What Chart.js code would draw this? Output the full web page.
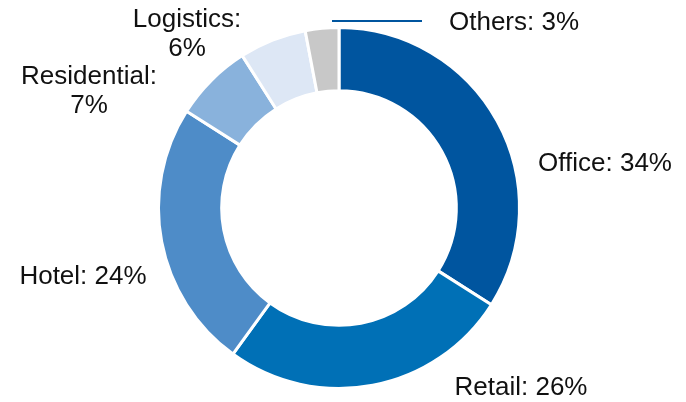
<!DOCTYPE html>
<html>
<head>
<meta charset="utf-8">
<script src="https://cdn.jsdelivr.net/npm/chart.js@4.4.0/dist/chart.umd.min.js"></script>
<style>
    html, body { margin: 0; padding: 0; background: #ffffff; }
    #chartBox { width: 686px; height: 402px; }
</style>
</head>
<body>
<div id="chartBox"><canvas id="myChartDona"></canvas></div>
<script>
// Datos del grafico
const categorias = ['Office', 'Retail', 'Hotel', 'Residential', 'Logistics', 'Others'];
const porcentajes = [34, 26, 24, 7, 6, 3];
const colores = ['#00559f', '#0070b6', '#4e8cc8', '#89b2dc', '#dde7f5', '#c8c8c8'];

// Posicion de las etiquetas (dx, dy desde el centro de la dona)
const posEtiquetas = [
    { dx: 266, dy: -44 },
    { dx: 182, dy: 180 },
    { dx: -256, dy: 69 },
    { dx: -250, dy: -131, salto: true },
    { dx: -152, dy: -188, salto: true },
    { dx: 175, dy: -185, linea: [-7, 83] }
];

// Plugin para dibujar las etiquetas fuera de la dona
const etiquetasPlugin = {
    id: 'etiquetasFuera',
    afterDraw(chart) {
        const ctx = chart.ctx;
        const arco = chart.getDatasetMeta(0).data[0];
        const cx = arco.x, cy = arco.y;
        ctx.save();
        ctx.font = '26px "Liberation Sans", Arial, sans-serif';
        ctx.fillStyle = '#111111';
        ctx.textAlign = 'center';
        ctx.textBaseline = 'middle';
        categorias.forEach(function (cat, i) {
            const p = posEtiquetas[i];
            const x = cx + p.dx, y = cy + p.dy;
            if (p.salto) {
                ctx.fillText(cat + ':', x, y);
                ctx.fillText(porcentajes[i] + '%', x, y + 29);
            } else {
                ctx.fillText(cat + ': ' + porcentajes[i] + '%', x, y);
            }
            if (p.linea) {
                ctx.strokeStyle = colores[0];
                ctx.lineWidth = 2;
                ctx.beginPath();
                ctx.moveTo(cx + p.linea[0], y - 2);
                ctx.lineTo(cx + p.linea[1], y - 2);
                ctx.stroke();
            }
        });
        ctx.restore();
    }
};

const ctx = document.getElementById('myChartDona').getContext('2d');
const myChartDona = new Chart(ctx, {
    type: 'doughnut',
    data: {
        labels: categorias,
        datasets: [{
            data: porcentajes,
            backgroundColor: colores,
            borderColor: '#ffffff',
            borderWidth: 3
        }]
    },
    options: {
        responsive: true,
        maintainAspectRatio: false,
        animation: false,
        cutout: '65%',
        layout: {
            padding: { top: 26, bottom: 12, left: 0, right: 8 }
        },
        plugins: {
            legend: { display: false },
            tooltip: { enabled: false }
        }
    },
    plugins: [etiquetasPlugin]
});
</script>
</body>
</html>
